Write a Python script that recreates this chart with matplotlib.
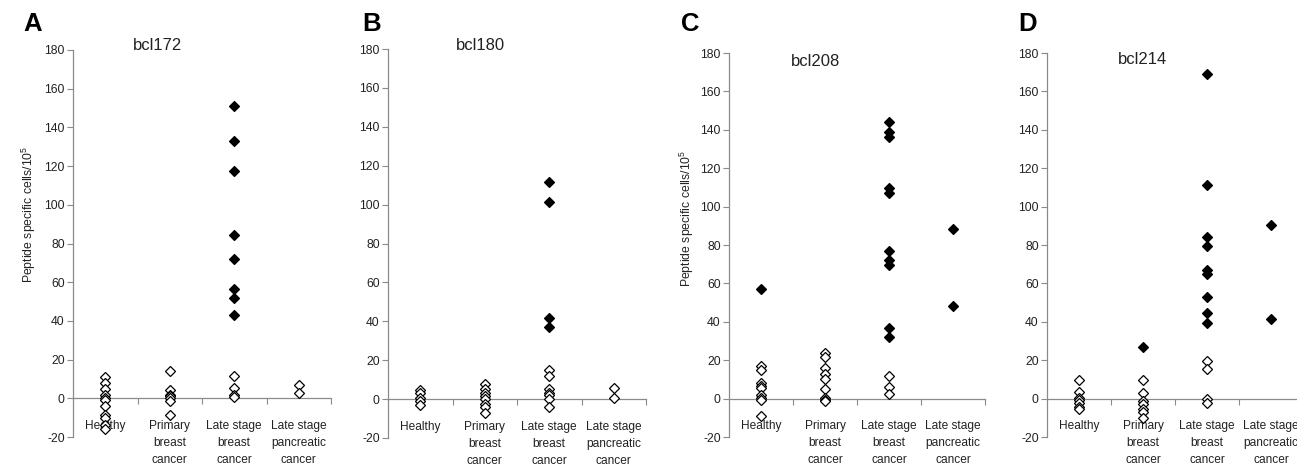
import matplotlib.pyplot as plt
import numpy as np

plt.rcParams['font.family'] = ['Liberation Sans', 'DejaVu Sans']
plt.rcParams['axes.unicode_minus'] = False
plt.rcParams['mathtext.fontset'] = 'custom'
plt.rcParams['mathtext.rm'] = 'Liberation Sans'

# categories on the x axis
groups = ["Healthy", "Primary\nbreast\ncancer", "Late stage\nbreast\ncancer",
          "Late stage\npancreatic\ncancer"]
panel_letters = ["A", "B", "C", "D"]
peptides = ["bcl172", "bcl180", "bcl208", "bcl214"]

# open diamonds (non responders) and filled diamonds (responders), one list per group
bcl172_open = [[11, 8, 5, 1.5, 0, -1, -4, -8.5, -10, -14, -16],
               [14, 4.5, 1.5, 1, 0, -1.5, -8.5],
               [11.5, 5.5, 1.5, 0.5],
               [7, 2.5]]
bcl172_filled = [[], [], [151, 133, 117.5, 84.5, 72, 56.5, 52, 43], []]

bcl180_open = [[4.5, 3, 0.5, -1, -3],
               [8, 5, 3, 1.5, 0, -2.5, -4, -7],
               [15, 12, 5, 3, 2, 0, -4],
               [5.5, 0.5]]
bcl180_filled = [[], [], [111.5, 101.5, 41.5, 37], []]

bcl208_open = [[17, 15, 8, 6.5, 5.5, 2, 0.5, -0.5, -9],
               [24, 21.5, 16, 13, 10, 5, 0.5, -0.5, -1],
               [12, 6, 2.5],
               []]
bcl208_filled = [[57], [], [144, 139, 136, 109.5, 107, 77, 72, 69.5, 37, 32], [88.5, 48]]

bcl214_open = [[9.5, 3.5, 0.5, -0.5, -2.5, -4.5, -5.5],
               [9.5, 3, -1, -3, -5.5, -7, -10],
               [19.5, 15.5, 0, -2.5],
               []]
bcl214_filled = [[], [27], [169, 111, 84, 79.5, 67, 65, 53, 44.5, 39.5], [90.5, 41.5]]

open_sets = [bcl172_open, bcl180_open, bcl208_open, bcl214_open]
filled_sets = [bcl172_filled, bcl180_filled, bcl208_filled, bcl214_filled]

W, H = 1297, 466
fig = plt.figure(figsize=(W / 100, H / 100), dpi=100)

# pixel boxes of each panel: left, right, top, bottom
boxes = [(73, 331, 50, 437), (388, 646, 49, 438), (729, 985, 53, 437), (1047, 1303, 53, 437)]
title_pos = [(158, 45), (480, 45), (816, 62), (1143, 59)]
letter_pos = [(33, 24), (372, 24), (690, 24), (1028, 24)]
ylabel_pos = {0: (29, 214), 2: (687, 218)}

axis_col = '#8a8a8a'
txt_col = '#222222'

for i in range(4):
    l, r, t, b = boxes[i]
    ax = fig.add_axes([l / W, (H - b) / H, (r - l) / W, (b - t) / H])
    ax.set_xlim(0.5, 4.5)
    ax.set_ylim(-20, 180)

    for g in range(4):
        yo = open_sets[i][g]
        yf = filled_sets[i][g]
        ax.plot([g + 1] * len(yo), yo, 'D', ms=4.6, mfc='white', mec='black',
                mew=0.9, ls='none', zorder=3, clip_on=False)
        ax.plot([g + 1] * len(yf), yf, 'D', ms=4.6, mfc='black', mec='black',
                mew=0.9, ls='none', zorder=4, clip_on=False)

    ax.spines['top'].set_visible(False)
    ax.spines['right'].set_visible(False)
    ax.spines['bottom'].set_position(('data', 0))
    ax.spines['left'].set_color(axis_col)
    ax.spines['bottom'].set_color(axis_col)
    ax.spines['left'].set_linewidth(0.9)
    ax.spines['bottom'].set_linewidth(0.9)

    ax.set_yticks(np.arange(-20, 181, 20))
    ax.tick_params(axis='y', direction='out', length=4, width=0.8, color=axis_col,
                   labelsize=8.8, labelcolor=txt_col, pad=2)

    ax.set_xticks([1, 2, 3, 4])
    ax.set_xticklabels(groups)
    ax.set_xticks([1.5, 2.5, 3.5, 4.5], minor=True)
    ax.tick_params(axis='x', which='major', length=0, labelsize=8.6,
                   labelcolor=txt_col, pad=15.5)
    ax.tick_params(axis='x', which='minor', direction='out', length=4, width=0.8,
                   color=axis_col)
    for lbl in ax.get_xticklabels():
        lbl.set_linespacing(1.55)

    tx, ty = title_pos[i]
    fig.text(tx / W, 1 - ty / H, peptides[i], fontsize=12, color=txt_col,
             ha='center', va='center')
    lx, ly = letter_pos[i]
    fig.text(lx / W, 1 - ly / H, panel_letters[i], fontsize=18.5, fontweight='bold',
             color='black', ha='center', va='center')
    if i in ylabel_pos:
        yx, yy = ylabel_pos[i]
        fig.text(yx / W, 1 - yy / H, r'Peptide specific cells/10$^{5}$', fontsize=8.8,
                 color=txt_col, rotation=90, ha='center', va='center')

fig.savefig('out.png', dpi=100)
